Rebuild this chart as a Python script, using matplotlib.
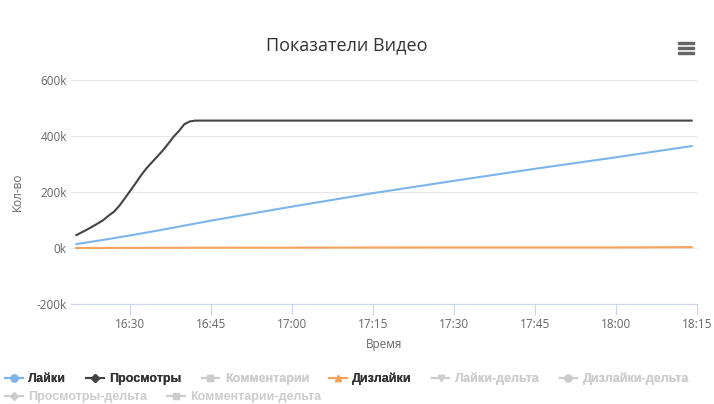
import pandas as pd
import matplotlib
matplotlib.use("Agg")
import matplotlib.pyplot as plt
import matplotlib.dates as mdates
from matplotlib.lines import Line2D
from matplotlib.patches import Rectangle
from matplotlib.ticker import FuncFormatter

# data (counts)
day = "2020-01-01 "

likes_time = ["16:20", "16:25", "16:30", "16:35", "16:40", "16:45", "17:00",
              "17:15", "17:30", "17:45", "18:00", "18:14"]
likes = [14000, 29000, 45000, 62000, 80000, 98000, 148000,
         196000, 240000, 283000, 324000, 364000]

views_time = ["16:20", "16:21", "16:22", "16:23", "16:24", "16:25", "16:26",
              "16:27", "16:28", "16:29", "16:30", "16:31", "16:32", "16:33",
              "16:34", "16:35", "16:36", "16:37", "16:38", "16:39", "16:40",
              "16:41", "16:42", "16:45", "17:00", "17:15", "17:30", "17:45",
              "18:00", "18:14"]
views = [46000, 56000, 66000, 77000, 88000, 100000, 116000,
         130000, 152000, 178000, 205000, 232000, 260000, 285000,
         306000, 327000, 348000, 372000, 397000, 418000, 442000,
         452000, 455000, 455000, 455000, 455000, 455000, 455000,
         455000, 455000]

dislikes_time = ["16:20", "16:45", "17:30", "18:00", "18:14"]
dislikes = [0, 1000, 2000, 2000, 3000]

x_start = "16:19"
x_end = "18:15"

legend_row1 = ["Лайки", "Просмотры", "Комментарии", "Дизлайки",
               "Лайки-дельта", "Дизлайки-дельта"]
legend_row2 = ["Просмотры-дельта", "Комментарии-дельта"]


def to_dt(times):
    return pd.to_datetime([day + t for t in times])


fig = plt.figure(figsize=(7.14, 4.04), dpi=100)
ax = fig.add_axes([71 / 714, 1 - 304 / 404, 626 / 714, 224 / 404])

blue = "#7cb5ec"
dark = "#434348"
orange = "#f7a35c"
hidden = "#cccccc"

ax.plot(to_dt(likes_time), likes, color=blue, lw=1.5, zorder=3)
ax.plot(to_dt(views_time), views, color=dark, lw=1.5, zorder=3)
ax.plot(to_dt(dislikes_time), dislikes, color=orange, lw=1.5, zorder=3)

ax.set_xlim(pd.Timestamp(day + x_start), pd.Timestamp(day + x_end))
ax.set_ylim(-200000, 600000)
ax.set_yticks([-200000, 0, 200000, 400000, 600000])
ax.yaxis.set_major_formatter(FuncFormatter(lambda v, p: f"{int(v / 1000)}k"))
ax.xaxis.set_major_locator(mdates.MinuteLocator(byminute=[0, 15, 30, 45]))
ax.xaxis.set_major_formatter(mdates.DateFormatter("%H:%M"))

ax.grid(axis="y", color="#e6e6e6", lw=0.8)
ax.set_axisbelow(True)
for s in ["top", "right", "left"]:
    ax.spines[s].set_visible(False)
ax.spines["bottom"].set_color("#ccd6eb")
ax.spines["bottom"].set_linewidth(0.8)

ax.tick_params(axis="y", length=0, pad=3, labelsize=8.5, labelcolor="#666666")
ax.tick_params(axis="x", length=8, width=0.8, color="#ccd6eb", pad=2,
               labelsize=8.5, labelcolor="#666666")
for lab in ax.get_xticklabels() + ax.get_yticklabels():
    lab.set_family("Open Sans")

ax.set_xlabel("Время", fontsize=8.5, color="#666666", family="Open Sans", labelpad=5)
ax.set_ylabel("Кол-во", fontsize=8.5, color="#666666", family="Open Sans", labelpad=9)

fig.text(0.485, 1 - 45 / 404, "Показатели Видео", ha="center", va="center",
         fontsize=13, color="#333333", family="Open Sans")

# menu icon
for i in range(3):
    fig.patches.append(Rectangle((678 / 714, 1 - (44 + i * 5) / 404), 16 / 714, 2.5 / 404,
                                 transform=fig.transFigure, color="#666666"))

# legends (flow layout, two rows)
styles1 = [(blue, "o", True), (dark, "D", True), (hidden, "s", False),
           (orange, "^", True), (hidden, "v", False), (hidden, "o", False)]
styles2 = [(hidden, "D", False), (hidden, "s", False)]


def make_legend(labels, styles, y):
    handles = [Line2D([], [], color=c, marker=m, markersize=4 if m == "D" else 5, lw=1.5)
               for c, m, v in styles]
    leg = fig.legend(handles, labels, loc="center left",
                     bbox_to_anchor=(5 / 714, 1 - y / 404), ncol=len(labels),
                     frameon=False, handlelength=1.4, handletextpad=0.45,
                     columnspacing=1.6, borderaxespad=0, borderpad=0,
                     prop={"family": ["Liberation Sans", "DejaVu Sans"],
                           "weight": "bold", "size": 9})
    for t, (c, m, v) in zip(leg.get_texts(), styles):
        t.set_color("#333333" if v else hidden)
    return leg


leg1 = make_legend(legend_row1, styles1, 379)
fig.add_artist(leg1)
make_legend(legend_row2, styles2, 397)

fig.savefig("out.png", dpi=100)
